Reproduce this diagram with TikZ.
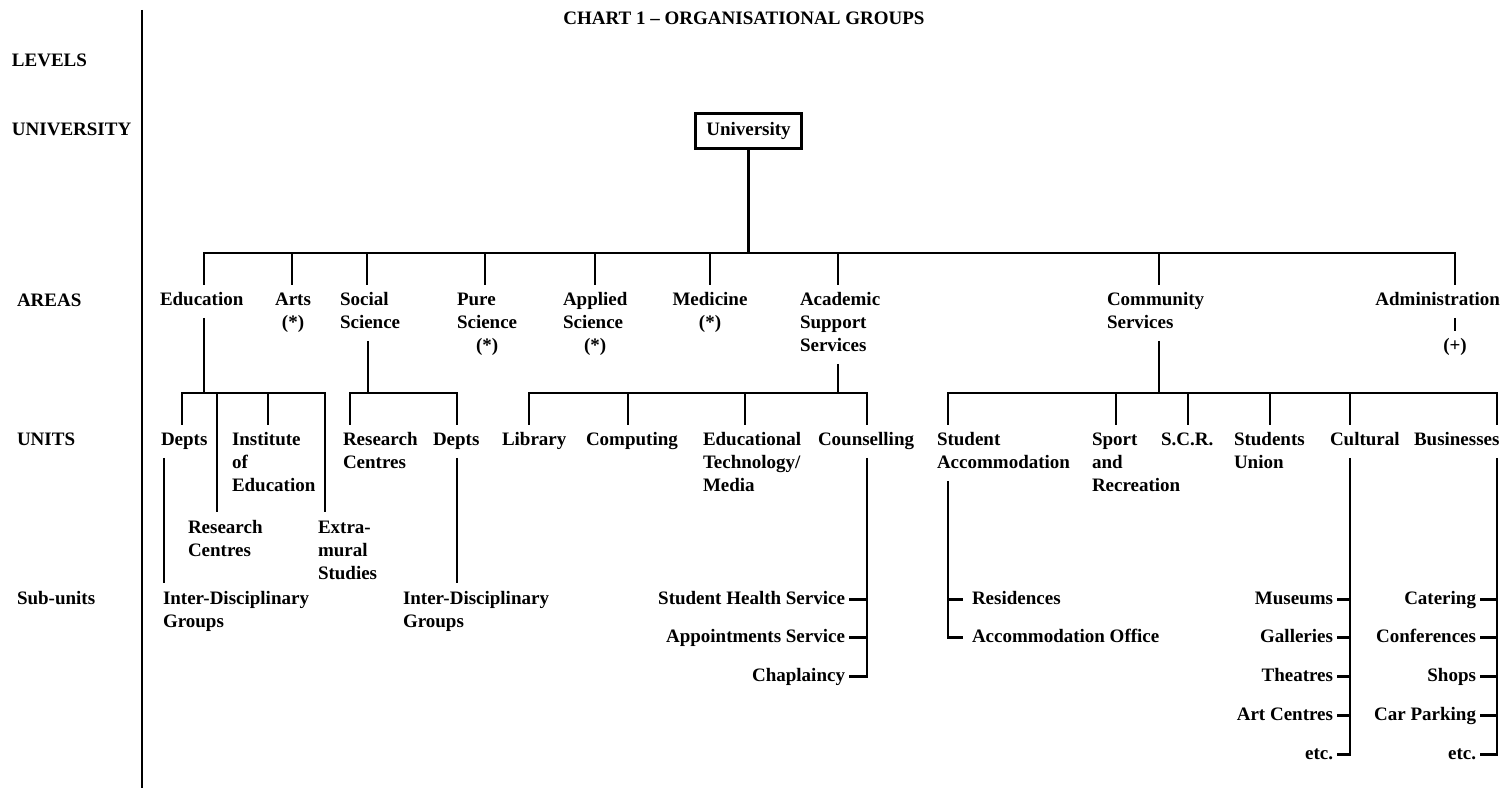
\documentclass[tikz,border=0pt]{standalone}
\usepackage{fontspec}
\newfontfamily\chartfam{Liberation Serif}
\newcommand\chartfont{\chartfam\bfseries\fontsize{19}{23}\selectfont}
% one-column stacks of lines; the node's baseline is that of the first line
\newcommand\txl[1]{\begin{tabular}[t]{@{}l@{}}#1\end{tabular}}
\newcommand\txc[1]{\begin{tabular}[t]{@{}c@{}}#1\end{tabular}}
\newcommand\ctr[1]{\multicolumn{1}{@{}c@{}}{#1}}
\begin{document}
\begin{tikzpicture}[x=1pt,y=-1pt,
  ln/.style={line width=2.4pt},
  tick/.style={ln, shorten <=4pt},
  lbl/.style={font=\chartfont, inner sep=0pt, outer xsep=0pt, outer ysep=5pt},
  lw/.style={lbl, anchor=base west},
  lc/.style={lbl, anchor=base},
  le/.style={lbl, anchor=base east}]
\fill[white] (0,0) rectangle (1505,791);
\useasboundingbox (0,0) rectangle (1505,791);

% title and level column
\node[lc] (title) at (744,25) {\txl{CHART 1 – ORGANISATIONAL GROUPS}};
\node[lw] (lvLevels) at (12,67) {\txl{LEVELS}};
\node[lw] (lvUniv) at (12,136) {\txl{UNIVERSITY}};
\node[lw] (lvAreas) at (17,307) {\txl{AREAS}};
\node[lw] (lvUnits) at (17,446) {\txl{UNITS}};
\node[lw] (lvSub) at (17,604) {\txl{Sub-units}};
\coordinate (frameTop) at (142,10);
\coordinate (frameBot) at (142,788);
\draw[ln] (frameTop) -- (frameBot);

% university
\node[draw, line width=2.4pt, font=\chartfont, minimum width=106pt, minimum height=35pt,
      inner sep=0pt, text height=14pt, text depth=4pt] (univ) at (748.5,131) {University};

% areas
\node[lw] (edu)  at (160,306)  {\txl{Education}};
\node[lc] (arts) at (293,306)  {\txc{Arts\\(*)}};
\node[lw] (soc)  at (340,306)  {\txl{Social\\Science}};
\node[lw] (pure) at (457,306)  {\txl{Pure\\Science\\\ctr{(*)}}};
\node[lw] (app)  at (563,306)  {\txl{Applied\\Science\\\ctr{(*)}}};
\node[lc] (med)  at (710,306)  {\txc{Medicine\\(*)}};
\node[lw] (acad) at (800,306)  {\txl{Academic\\Support\\Services}};
\node[lw] (com)  at (1107,306) {\txl{Community\\Services}};
\node[le] (adm)  at (1500,306) {\txl{Administration}};
\node[lc] (plus) at (1455,352) {\txl{(+)}};

% units and sub-units: education
\node[lw] (deptsE) at (161,446) {\txl{Depts}};
\node[lw] (inst)   at (232,446) {\txl{Institute\\of\\Education}};
\node[lw] (rcE)    at (188,533) {\txl{Research\\Centres}};
\node[lw] (xmE)    at (318,533) {\txl{Extra-\\mural\\Studies}};
\node[lw] (idgE)   at (163,604) {\txl{Inter-Disciplinary\\Groups}};
% social science
\node[lw] (rcS)    at (343,446) {\txl{Research\\Centres}};
\node[lw] (deptsS) at (433,446) {\txl{Depts}};
\node[lw] (idgS)   at (403,604) {\txl{Inter-Disciplinary\\Groups}};
% academic support services
\node[lw] (lib)    at (502,446) {\txl{Library}};
\node[lw] (comp)   at (586,446) {\txl{Computing}};
\node[lw] (edtech) at (703,446) {\txl{Educational\\Technology/\\Media}};
\node[lw] (couns)  at (818,446) {\txl{Counselling}};
\node[le] (shs)    at (845,604) {\txl{Student Health Service}};
\node[le] (appt)   at (845,642) {\txl{Appointments Service}};
\node[le] (chap)   at (845,681) {\txl{Chaplaincy}};
% community services
\node[lw] (sacc)   at (937,446)  {\txl{Student\\Accommodation}};
\node[lw] (sport)  at (1092,446) {\txl{Sport\\and\\Recreation}};
\node[lw] (scr)    at (1161,446) {\txl{S.C.R.}};
\node[lw] (union)  at (1234,446) {\txl{Students\\Union}};
\node[lw] (cult)   at (1330,446) {\txl{Cultural}};
\node[lw] (biz)    at (1414,446) {\txl{Businesses}};
\node[lw] (res)    at (972,604) {\txl{Residences}};
\node[lw] (accoff) at (972,642) {\txl{Accommodation Office}};
\node[le] (museums)   at (1333,604) {\txl{Museums}};
\node[le] (galleries) at (1333,642) {\txl{Galleries}};
\node[le] (theatres)  at (1333,681) {\txl{Theatres}};
\node[le] (artc)      at (1333,720) {\txl{Art Centres}};
\node[le] (etcC)      at (1333,759) {\txl{etc.}};
\node[le] (catering)  at (1476,604) {\txl{Catering}};
\node[le] (conf)      at (1476,642) {\txl{Conferences}};
\node[le] (shops)     at (1476,681) {\txl{Shops}};
\node[le] (carp)      at (1476,720) {\txl{Car Parking}};
\node[le] (etcB)      at (1476,759) {\txl{etc.}};

% university to areas
\coordinate (hub)   at (748,253);
\coordinate (bEdu)  at (204,253);
\coordinate (bArt)  at (292,253);
\coordinate (bSoc)  at (367,253);
\coordinate (bPure) at (485,253);
\coordinate (bApp)  at (595,253);
\coordinate (bMed)  at (710,253);
\coordinate (bAcad) at (838,253);
\coordinate (bCom)  at (1159,253);
\coordinate (bAdm)  at (1455,253);
\draw[ln] (univ.south) -- (univ.south |- hub);
\draw[ln] (edu.north -| bEdu) -- (bEdu) -- (bAdm) -- (adm.north -| bAdm);
\foreach \b/\n in {bArt/arts,bSoc/soc,bPure/pure,bApp/app,bMed/med,bAcad/acad,bCom/com}
  \draw[ln] (\b) -- (\n.north -| \b);
\draw[ln] (adm.south -| plus.north) -- (plus.north);

% education units
\coordinate (eHub) at (204,393);
\coordinate (eL)   at (182,393);
\coordinate (eRC)  at (217,393);
\coordinate (eIns) at (268,393);
\coordinate (eR)   at (325,393);
\coordinate (eD)   at (164,393);
\draw[ln] (edu.south -| eHub) -- (eHub);
\draw[ln] (deptsE.north -| eL) -- (eL) -- (eR) -- (xmE.north -| eR);
\draw[ln] (eRC) -- (rcE.north -| eRC);
\draw[ln] (eIns) -- (inst.north -| eIns);
\draw[ln] (deptsE.south -| eD) -- (idgE.north -| eD);

% social science units
\coordinate (sHub) at (368,393);
\coordinate (sL)   at (350,393);
\coordinate (sR)   at (457,393);
\draw[ln] (soc.south -| sHub) -- (sHub);
\draw[ln] (rcS.north -| sL) -- (sL) -- (sR) -- (deptsS.north -| sR);
\draw[ln] (deptsS.south -| sR) -- (idgS.north -| sR);

% academic support units
\coordinate (aHub) at (838,393);
\coordinate (aL)   at (529,393);
\coordinate (aC)   at (628,393);
\coordinate (aE)   at (745,393);
\coordinate (aR)   at (867,393);
\draw[ln] (acad.south -| aHub) -- (aHub);
\draw[ln] (lib.north -| aL) -- (aL) -- (aR) -- (couns.north -| aR);
\draw[ln] (aC) -- (comp.north -| aC);
\draw[ln] (aE) -- (edtech.north -| aE);
\draw[ln, shorten >=4pt] (couns.south -| aR) -- (chap.east -| aR) -- (chap.east);
\draw[tick] (shs.east) -- (shs.east -| aR);
\draw[tick] (appt.east) -- (appt.east -| aR);

% community services units
\coordinate (cHub) at (1159,393);
\coordinate (cL)   at (948,393);
\coordinate (cSp)  at (1116,393);
\coordinate (cScr) at (1188,393);
\coordinate (cUn)  at (1270,393);
\coordinate (cCu)  at (1350,393);
\coordinate (cR)   at (1497,393);
\draw[ln] (com.south -| cHub) -- (cHub);
\draw[ln] (sacc.north -| cL) -- (cL) -- (cR) -- (biz.north -| cR);
\draw[ln] (cSp) -- (sport.north -| cSp);
\draw[ln] (cScr) -- (scr.north -| cScr);
\draw[ln] (cUn) -- (union.north -| cUn);
\draw[ln] (cCu) -- (cult.north -| cCu);
\draw[ln, shorten >=9pt] (sacc.south -| cL) -- (accoff.west -| cL) -- (accoff.west);
\draw[ln, shorten >=9pt] (res.west -| cL) -- (res.west);
\draw[ln, shorten >=4pt] (cult.south -| cCu) -- (etcC.east -| cCu) -- (etcC.east);
\foreach \n in {museums,galleries,theatres,artc}
  \draw[tick] (\n.east) -- (\n.east -| cCu);
\draw[ln, shorten >=4pt] (biz.south -| cR) -- (etcB.east -| cR) -- (etcB.east);
\foreach \n in {catering,conf,shops,carp}
  \draw[tick] (\n.east) -- (\n.east -| cR);
\end{tikzpicture}
\end{document}
